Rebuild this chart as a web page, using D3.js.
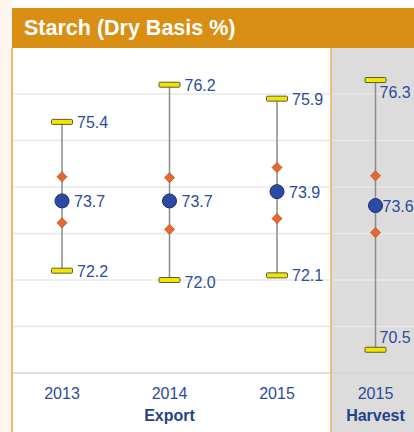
<!DOCTYPE html>
<html>
<head>
<meta charset="utf-8">
<script src="https://cdn.jsdelivr.net/npm/d3@7"></script>
<style>
  body { margin: 0; background: #fff; }
  svg { display: block; font-family: Arial, "Liberation Sans", sans-serif; }
</style>
</head>
<body>
<div id="chart"></div>
<script>
// chart data
var years = ["2013", "2014", "2015", "2015"];
var groups = ["", "Export", "", "Harvest"];
var maxVals = [75.4, 76.2, 75.9, 76.3];
var minVals = [72.2, 72.0, 72.1, 70.5];
var meanVals = [73.7, 73.7, 73.9, 73.6];
var upperVals = [74.22, 74.2, 74.42, 74.24];
var lowerVals = [73.23, 73.09, 73.32, 73.02];
var gridVals = [70, 71, 72, 73, 74, 75, 76];

var width = 414, height = 432;
var blue = "#2b4c9b";
var splitX = 331;

var svg = d3.select("#chart").append("svg")
	.attr("width", width)
	.attr("height", height);

// faint left margin
svg.append("rect").attr("x", 0).attr("y", 0).attr("width", 12).attr("height", height)
	.style("fill", "#fcf6ee");

// panels
svg.append("rect").attr("x", 12).attr("y", 48).attr("width", splitX - 12).attr("height", height - 48)
	.style("fill", "#fff");
svg.append("rect").attr("x", splitX).attr("y", 48).attr("width", width - splitX).attr("height", height - 48)
	.style("fill", "#dcdcdc");

//scales
var y = d3.scaleLinear().domain([70, 77]).range([373, 47.5]);
var xExport = d3.scalePoint().domain([0, 1, 2]).range([62, 277]);
var xHarvest = d3.scalePoint().domain([3]).range([splitX, 420]).padding(0.5);
function x(i){ return i < 3 ? xExport(i) : xHarvest(i); }

// gridlines
svg.append("g").attr("class", "grid").selectAll("line").data(gridVals).enter().append("line")
	.attr("x1", 13)
	.attr("x2", width)
	.attr("y1", function(d){ return y(d); })
	.attr("y2", function(d){ return y(d); })
	.attr("stroke", function(d){ return d === 70 ? "#d6d6d6" : "#e8e8e8"; })
	.attr("stroke-width", 1.5);

// orange borders
svg.append("line").attr("x1", 12).attr("x2", 12).attr("y1", 48).attr("y2", height)
	.attr("stroke", "#e9a23b").attr("stroke-width", 1.5);
svg.append("line").attr("x1", splitX).attr("x2", splitX).attr("y1", 48).attr("y2", height)
	.attr("stroke", "#e9a23b").attr("stroke-width", 1.2);

// title bar
svg.append("rect").attr("x", 12).attr("y", 8).attr("width", width - 12).attr("height", 40)
	.style("fill", "#d88f14");
svg.append("text").attr("x", 24).attr("y", 35)
	.style("fill", "#fff").style("font-size", "21.5px").style("font-weight", "bold")
	.text("Starch (Dry Basis %)");

var idx = d3.range(years.length);

// whisker lines
svg.append("g").selectAll("line").data(idx).enter().append("line")
	.attr("x1", function(i){ return x(i); })
	.attr("x2", function(i){ return x(i); })
	.attr("y1", function(i){ return y(maxVals[i]); })
	.attr("y2", function(i){ return y(minVals[i]); })
	.attr("stroke", "#8a8a8a")
	.attr("stroke-width", 1.5);

// caps
var caps = [];
idx.forEach(function(i){ caps.push([i, maxVals[i]]); caps.push([i, minVals[i]]); });
svg.append("g").selectAll("rect").data(caps).enter().append("rect")
	.attr("x", function(d){ return x(d[0]) - 10.5; })
	.attr("y", function(d){ return y(d[1]) - 2.5; })
	.attr("width", 21)
	.attr("height", 5)
	.attr("rx", 1)
	.style("fill", "#f3e500")
	.style("stroke", "#5a5a3a")
	.style("stroke-width", 1);

// diamonds
var dia = [];
idx.forEach(function(i){ dia.push([i, upperVals[i]]); dia.push([i, lowerVals[i]]); });
svg.append("g").selectAll("path").data(dia).enter().append("path")
	.attr("d", "M0,-5L5,0L0,5L-5,0Z")
	.attr("transform", function(d){ return "translate(" + x(d[0]) + "," + y(d[1]) + ")"; })
	.style("fill", "#e8672a")
	.style("stroke", "#b4501e")
	.style("stroke-width", 0.8);

// means
svg.append("g").selectAll("circle").data(idx).enter().append("circle")
	.attr("cx", function(i){ return x(i); })
	.attr("cy", function(i){ return y(meanVals[i]); })
	.attr("r", 7)
	.style("fill", "#2a4aa6")
	.style("stroke", "#1b2d66")
	.style("stroke-width", 1);

// value labels
var maxDy = [6, 6, 6, 18];
var minDy = [6, 8, 6, -7];
function addLabels(vals, dys, dx){
	svg.append("g").selectAll("text").data(idx).enter().append("text")
		.attr("x", function(i){ return x(i) + dx(i); })
		.attr("y", function(i){ return y(vals[i]) + dys[i]; })
		.style("fill", blue)
		.style("font-size", "16px")
		.text(function(i){ return vals[i].toFixed(1); });
}
addLabels(maxVals, maxDy, function(i){ return i === 3 ? 4 : 15; });
addLabels(minVals, minDy, function(i){ return i === 3 ? 4 : 15; });
addLabels(meanVals, [6, 6, 6, 6], function(i){ return i === 3 ? 7 : 12; });

// x labels
svg.append("g").selectAll("text").data(idx).enter().append("text")
	.attr("x", function(i){ return x(i); })
	.attr("y", 399)
	.attr("text-anchor", "middle")
	.style("fill", blue)
	.style("font-size", "16px")
	.text(function(i){ return years[i]; });
svg.append("g").selectAll("text").data(idx.filter(function(i){ return groups[i]; })).enter().append("text")
	.attr("x", function(i){ return x(i); })
	.attr("y", 421)
	.attr("text-anchor", "middle")
	.style("fill", "#24418a")
	.style("font-size", "16px")
	.style("font-weight", "bold")
	.text(function(i){ return groups[i]; });
</script>
</body>
</html>
